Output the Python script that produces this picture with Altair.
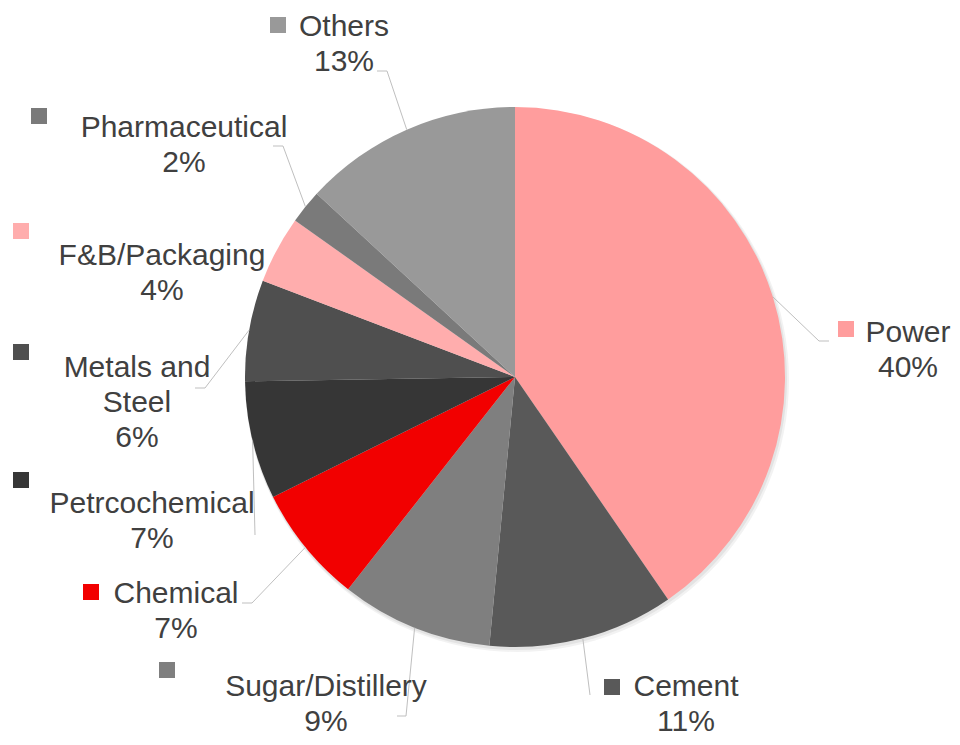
import math
import altair as alt
import pandas as pd

# ---------------- data ----------------
categories = ["Power", "Cement", "Sugar/Distillery", "Chemical", "Petrcochemical",
              "Metals and Steel", "F&B/Packaging", "Pharmaceutical", "Others"]
values = [40, 11, 9, 7, 7, 6, 4, 2, 13]
label_lines = [["Power"], ["Cement"], ["Sugar/Distillery"], ["Chemical"], ["Petrcochemical"],
               ["Metals and", "Steel"], ["F&B/Packaging"], ["Pharmaceutical"], ["Others"]]

# ---------------- styles ----------------
colors = ["#FF9D9D", "#595959", "#7F7F7F", "#F20000", "#363636",
          "#4F4F4F", "#FFADAD", "#7A7A7A", "#999999"]
TEXT_COLOR = "#404040"
FONT = "Liberation Sans"
FONT_SIZE = 30
LINE_H = 35

# ---------------- layout (page pixels) ----------------
OFF = 8
CX, CY, R = 515, 377, 270
label_cx = [908, 686, 326, 176, 152, 137, 162, 184, 344]
label_y0 = [342, 696, 696, 603, 513, 377, 265, 137, 36]
key_x = [846, 612, 167, 91, 21, 21, 21, 39, 278]
key_y = [329, 687, 670, 592, 480, 352, 231, 116, 25]
leader_bends = [[(819, 341), (829, 341)], [(590, 695)], [(406, 716), (397, 716)],
                [(252, 603), (242, 603)], [(255, 535)], [(205, 388), (195, 388)],
                [], [(283, 146), (273, 146)], [(387, 71), (377, 71)]]

total = sum(values)

pie_df = pd.DataFrame({"category": categories, "value": values,
                       "order": list(range(len(categories)))})

# label rows
rows = []
for i, cat in enumerate(categories):
    lines = label_lines[i] + [f"{values[i]}%"]
    for j, t in enumerate(lines):
        rows.append({"category": cat, "text": t,
                     "x": label_cx[i] - OFF, "y": label_y0[i] + j * LINE_H - OFF})
text_df = pd.DataFrame(rows)

key_df = pd.DataFrame({"category": categories,
                       "x": [v - OFF for v in key_x], "y": [v - OFF for v in key_y]})

# leader lines: start at slice mid-angle on the pie edge
lrows = []
cum = 0
for i, cat in enumerate(categories):
    mid = (cum + values[i] / 2) / total * 2 * math.pi
    cum += values[i]
    if not leader_bends[i]:
        continue
    pts = [(CX + R * math.sin(mid), CY - R * math.cos(mid))] + leader_bends[i]
    for k, (px, py) in enumerate(pts):
        lrows.append({"category": cat, "seq": k, "x": px - OFF, "y": py - OFF})
leader_df = pd.DataFrame(lrows)

color_scale = alt.Scale(domain=categories, range=colors)

shadow1 = alt.Chart(pie_df.head(1)).mark_arc(
    theta=0, theta2=2 * math.pi, outerRadius=R + 2, color="#000000", opacity=0.05
).encode(x=alt.value(CX + 2 - OFF), y=alt.value(CY + 3 - OFF))
shadow2 = alt.Chart(pie_df.head(1)).mark_arc(
    theta=0, theta2=2 * math.pi, outerRadius=R + 1, color="#000000", opacity=0.06
).encode(x=alt.value(CX + 1 - OFF), y=alt.value(CY + 2 - OFF))

arc = alt.Chart(pie_df).mark_arc(outerRadius=R, strokeWidth=0).encode(
    x=alt.value(CX - OFF), y=alt.value(CY - OFF),
    theta=alt.Theta("value:Q", stack=True),
    color=alt.Color("category:N", scale=color_scale, legend=None),
    order=alt.Order("order:Q"),
)

leaders = alt.Chart(leader_df).mark_line(color="#BFBFBF", strokeWidth=1).encode(
    x=alt.X("x:Q", scale=None, axis=None),
    y=alt.Y("y:Q", scale=None, axis=None),
    detail="category:N",
    order="seq:Q",
)

keys = alt.Chart(key_df).mark_square(size=256, opacity=1, strokeWidth=0).encode(
    x=alt.X("x:Q", scale=None, axis=None),
    y=alt.Y("y:Q", scale=None, axis=None),
    color=alt.Color("category:N", scale=color_scale, legend=None),
)

texts = alt.Chart(text_df).mark_text(
    font=FONT, fontSize=FONT_SIZE, color=TEXT_COLOR, align="center", baseline="alphabetic"
).encode(
    x=alt.X("x:Q", scale=None, axis=None),
    y=alt.Y("y:Q", scale=None, axis=None),
    text="text:N",
)

chart = alt.layer(shadow1, shadow2, arc, leaders, keys, texts).properties(
    width=944, height=729, padding=0, autosize="none"
).configure_view(stroke=None)

chart.save("out.html", embed_options={"renderer": "svg", "actions": False})
